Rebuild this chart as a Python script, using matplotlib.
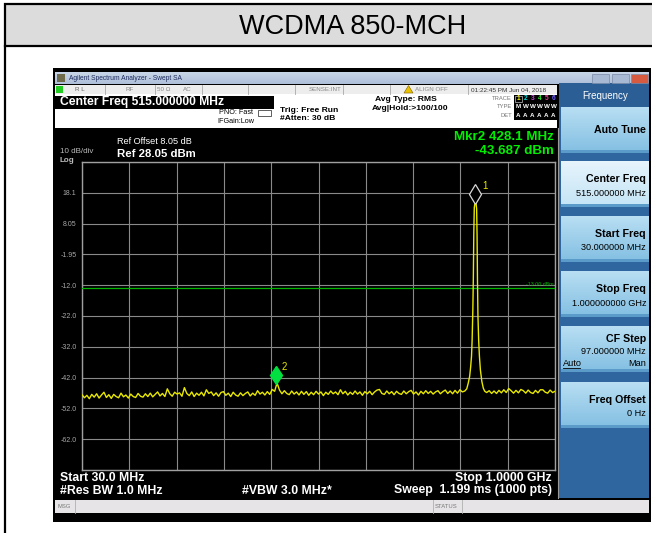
import numpy as np
import matplotlib
matplotlib.use('Agg')
import matplotlib.pyplot as plt
from matplotlib.patches import Rectangle, Polygon
from matplotlib.transforms import offset_copy

plt.rcParams['font.family'] = ['Liberation Sans', 'DejaVu Sans']

# ---- data ----
title = 'WCDMA 850-MCH'
start_mhz, stop_mhz = 30.0, 1000.0
ref_dbm = 28.05
db_div = 10
ytick_labels = ['', '18.1', '8.05', '-1.95', '-12.0', '-22.0', '-32.0',
                '-42.0', '-52.0', '-62.0', '']
limit_dbm = -13.0

sweep_mhz = np.arange(30, 1001, 5)
floor_dbm = [
    -47.5, -48.5, -47.7, -48.8, -47.4, -48.3, -47.2, -48.6, -47.6, -46.7, -48.4, -47.5, -48.7,
    -47.4, -48.1, -48.5, -47.0, -48.2, -47.6, -48.6, -47.3, -48.1, -48.4, -47.1, -48.0, -48.3,
    -47.2, -48.1, -47.0, -48.2, -47.4, -46.6, -47.9, -47.1, -48.1, -45.6, -47.2, -48.0, -46.7,
    -47.3, -46.9, -48.0, -45.2, -47.1, -47.8, -46.6, -48.1, -47.0, -47.7, -46.7, -47.9, -45.9,
    -47.1, -46.6, -47.8, -46.9, -48.0, -46.8, -46.5, -47.7, -47.0, -48.1, -46.7, -47.6, -48.0,
    -46.9, -47.8, -47.1, -46.6, -47.9, -47.0, -47.7, -46.2, -47.3, -46.7, -47.6, -46.5, -47.4,
    -45.8, -46.4, -43.7, -46.0, -47.2, -46.2, -47.1, -47.5, -46.3, -47.3, -46.6, -47.6, -46.4,
    -47.4, -46.5, -47.7, -46.7, -47.5, -46.4, -47.3, -46.6, -47.8, -46.7, -47.4, -46.3, -47.2,
    -46.6, -47.5, -45.9, -47.2, -46.4, -47.6, -46.7, -47.4, -46.3, -47.3, -46.6, -47.7, -46.5,
    -47.2, -46.4, -47.5, -46.6, -46.0, -45.8, -47.1, -47.4, -46.3, -47.2, -46.5, -47.5, -46.4,
    -47.1, -47.4, -46.3, -47.2, -46.5, -46.1, -47.3, -46.6, -47.6, -46.4, -47.2, -46.2, -47.1,
    -46.4, -47.3, -46.6, -46.2, -47.2, -46.5, -46.0, -47.1, -46.3, -47.2, -46.1, -47.0, -45.9,
    -46.6, -46.4, -46.3, -46.5, -46.2, -46.6, -46.4, -46.7, -46.3, -46.5, -46.8, -46.2, -47.1,
    -46.3, -47.1, -46.1, -46.9, -45.9, -46.8, -45.5, -46.2, -47.0, -46.1, -46.9, -45.8, -46.2,
    -47.0, -46.0, -46.8, -47.1, -46.1, -46.9, -45.9, -45.9, -46.7, -47.0, -46.0, -46.8, -46.4,
]
peak_mhz = [815, 819, 822, 825, 827, 828.8, 830, 831.5, 832.5, 833.5, 834.5, 835.8,
            837, 838.2, 839.3, 840.2, 841, 842, 843.5, 845, 847, 850, 853, 856]
peak_dbm = [-46.3, -45.6, -43.8, -41.5, -38.5, -35.0, -30.0, -20.0, -10.0, 5.0, 13.3, 14.6,
            14.8, 14.5, 12.8, 4.0, -10.0, -22.0, -30.0, -35.0, -39.5, -43.2, -45.4, -46.4]
mkr1_mhz, mkr1_dbm = 836.6, 14.8
mkr2_mhz, mkr2_dbm = 428.1, -43.687

softkeys = [('Auto Tune', '', False), ('Center Freq', '515.000000 MHz', True),
            ('Start Freq', '30.000000 MHz', False), ('Stop Freq', '1.000000000 GHz', False),
            ('CF Step', '97.000000 MHz', False), ('Freq Offset', '0 Hz', False)]
key_tops = [107, 161, 216, 271, 326, 382]

fig = plt.figure(figsize=(6.52, 5.33), dpi=100)
bg = fig.add_axes([0, 0, 1, 1])
bg.set_xlim(0, 652)
bg.set_ylim(533, 0)
bg.axis('off')


def rect(x0, y0, x1, y1, fc, ec='none', lw=0, z=1):
    bg.add_patch(Rectangle((x0, y0), x1 - x0, y1 - y0, fc=fc, ec=ec, lw=lw, zorder=z))


def txt(x, y, s, size, color='black', weight='normal', ha='left', **kw):
    bg.text(x, y, s, fontsize=size, color=color, fontweight=weight, ha=ha, va='center', zorder=5, **kw)


def grad(x0, y0, x1, y1, c_top, c_bot, z=2):
    a = np.array(matplotlib.colors.to_rgb(c_top))
    b = np.array(matplotlib.colors.to_rgb(c_bot))
    t = np.linspace(0, 1, 32)[:, None]
    img = (a * (1 - t) + b * t)[:, None, :]
    bg.imshow(img, extent=(x0, x1, y1, y0), aspect='auto', zorder=z, interpolation='bilinear')


# table cell with title
rect(5, 4, 660, 46, '#dcdcdc', 'black', 1.6)
bg.plot([5, 5], [46, 533], color='black', lw=1.6, zorder=3)
txt(353, 27, title, 19.5, ha='center')

# analyzer window
rect(53, 68, 651, 522, 'black')
grad(55, 72, 649, 84, '#c9d6e8', '#aebfd9')
rect(57, 74, 65, 82, '#6e6b4a', z=3)
txt(69, 78.5, 'Agilent Spectrum Analyzer - Swept SA', 4.8, '#1c2b5c')
for x0, c in [(592, '#a7b9d3'), (612, '#a7b9d3'), (631, '#d65a3f')]:
    rect(x0, 74, x0 + 17, 82.5, c, '#7a8aa8', 0.5, z=3)

# status row
rect(55, 85, 557, 94, '#ededed', z=2)
for x in [105, 155, 202, 248, 295, 343, 390, 468]:
    bg.plot([x, x], [85, 94], color='#a8a8a8', lw=0.6, zorder=3)
rect(56, 86, 63, 93, '#22cc22', z=3)
txt(75, 89.5, 'R L', 4.5, '#666666')
txt(125, 89.5, 'RF', 4.5, '#888888')
txt(157, 89.5, '50 \u03a9', 4.5, '#888888')
txt(183, 89.5, 'AC', 4.5, '#888888')
txt(342, 89.5, 'SENSE:INT', 4.5, '#888888', ha='right')
bg.add_patch(Polygon([[404, 93], [408.5, 85.5], [413, 93]], fc='#e8c000', ec='#806000', lw=0.4, zorder=4))
txt(415, 89.5, 'ALIGN OFF', 4.5, '#888888')
txt(471, 89.5, '01:22:45 PM Jun 04, 2018', 4.6, '#333333')

# header
rect(55, 94, 557, 128, 'white', z=2)
rect(55, 96, 274, 108.5, 'black', z=3)
txt(60, 102.3, 'Center Freq 515.000000 MHz', 8.7, 'white', 'bold')
txt(253, 113, 'PNO: Fast', 5.2, ha='right')
txt(254, 121.5, 'IFGain:Low', 5.2, ha='right')
rect(258, 110, 271, 116, 'white', '#444444', 0.6, z=3)
txt(280, 110, 'Trig: Free Run', 6.1, weight='bold')
txt(280, 119, '#Atten: 30 dB', 6.1, weight='bold')
txt(375, 99.5, 'Avg Type: RMS', 6.1, weight='bold')
txt(372, 108.5, 'Avg|Hold:>100/100', 6.1, weight='bold')
rect(514, 95, 557, 120, 'black', z=3)
txt(512, 98.5, 'TRACE', 4.2, '#777777', ha='right')
txt(512, 107, 'TYPE', 4.2, '#777777', ha='right')
txt(512, 115.5, 'DET', 4.2, '#777777', ha='right')
trace_cols = ['#f0f000', '#00e0e0', '#d040e0', '#30e030', '#e04090', '#7060ff']
rect(515, 95.5, 522, 102, 'none', '#c0c0c0', 0.5, z=4)
for i, c in enumerate(trace_cols):
    xc = 518.5 + 7 * i
    txt(xc, 98.7, str(i + 1), 4.8, c, 'bold', ha='center')
    txt(xc, 107, 'M' if i == 0 else 'W', 4.5, 'white', 'bold', ha='center')
    txt(xc, 115.5, 'A', 4.5, 'white', 'bold', ha='center')

# softkey panel
rect(559, 83, 649, 498, '#2f66a0', z=2)
rect(559, 83, 649, 107, '#2c5e96', z=2)
txt(605, 96, 'Frequency', 7, 'white', ha='center')
for (name, val, hi), y0 in zip(softkeys, key_tops):
    y1 = y0 + 46
    if hi:
        grad(561, y0, 649, y1 - 3, '#e6f4fc', '#c6e5f6')
    else:
        grad(561, y0, 649, y1 - 3, '#b8def3', '#86c1e3')
    rect(561, y1 - 3, 649, y1, '#5a9bc9', z=3)
    if name == 'CF Step':
        txt(646, y0 + 13, name, 7.7, weight='bold', ha='right')
        txt(646, y0 + 25, val, 6.6, ha='right')
        txt(563, y0 + 37, 'Auto', 6.6)
        bg.plot([563, 580], [y0 + 41.5, y0 + 41.5], color='black', lw=0.6, zorder=5)
        txt(646, y0 + 37, 'Man', 6.6, ha='right')
    elif val:
        txt(646, y0 + 18, name, 7.7, weight='bold', ha='right')
        txt(646, y0 + 32, val, 6.6, ha='right')
    else:
        txt(646, y0 + 23, name, 7.7, weight='bold', ha='right')
bg.plot([558, 558], [128, 498], color='#9a9a9a', lw=0.8, zorder=3)

# texts on black area
txt(117, 142, 'Ref Offset 8.05 dB', 6.6, 'white')
txt(117, 154, 'Ref 28.05 dBm', 8.2, 'white', 'bold')
txt(60, 151.5, '10 dB/div', 5.8, '#bbbbbb')
txt(60, 160.5, 'Log', 5.8, '#bbbbbb', 'bold')
txt(554, 136.5, 'Mkr2 428.1 MHz', 9.6, '#00ee00', 'bold', ha='right')
txt(554, 150.5, '-43.687 dBm', 9.6, '#00ee00', 'bold', ha='right')
txt(60, 478, 'Start 30.0 MHz', 8.8, 'white', 'bold')
txt(60, 490.5, '#Res BW 1.0 MHz', 8.8, 'white', 'bold')
txt(242, 490.5, '#VBW 3.0 MHz*', 8.8, 'white', 'bold')
txt(552, 478, 'Stop 1.0000 GHz', 8.8, 'white', 'bold', ha='right')
txt(552, 490.5, 'Sweep  1.199 ms (1000 pts)', 8.8, 'white', 'bold', ha='right')

# message bar
rect(55, 500, 649, 513, '#e6e4e6', z=2)
for x in [75, 433, 462]:
    bg.plot([x, x], [500, 513], color='#b0b0b0', lw=0.6, zorder=3)
txt(57, 506.5, 'MSG', 4.2, '#777777')
txt(435, 506.5, 'STATUS', 4.2, '#777777')

# ---- spectrum plot ----
W, H = 652, 533
ax = fig.add_axes([82 / W, 1 - 470 / H, 473 / W, 308 / H])
ax.set_facecolor('black')
ax.set_xlim(start_mhz, stop_mhz)
ax.set_ylim(ref_dbm - 10 * db_div, ref_dbm)
ax.set_xticks(np.linspace(start_mhz, stop_mhz, 11))
yt = [ref_dbm - db_div * k for k in range(11)]
ax.set_yticks(yt)
ax.set_yticklabels(ytick_labels)
ax.set_xticklabels([])
ax.tick_params(length=0, labelsize=5, labelcolor='#a8a8a8', pad=4)
ax.grid(True, color='#8a8a8a', lw=0.8)
for s in ax.spines.values():
    s.set_color('#a0a0a0')
    s.set_linewidth(1.0)

floor = np.array(floor_dbm)
lo = sweep_mhz < peak_mhz[0]
hi = sweep_mhz > peak_mhz[-1]
tr_x = np.concatenate([sweep_mhz[lo], peak_mhz, sweep_mhz[hi]])
tr_y = np.concatenate([floor[lo], peak_dbm, floor[hi]])
ax.plot(tr_x, tr_y, color='#e8e800', lw=1.0, zorder=4)

ax.axhline(limit_dbm, color='#00b400', lw=0.9, zorder=3)
ax.text(stop_mhz - 3, limit_dbm + 0.6, '-13.00 dBm', color='#00b400', fontsize=3.8,
        ha='right', va='bottom', zorder=5)

up = offset_copy(ax.transData, fig=fig, y=6, units='points')
ax.plot(mkr1_mhz, mkr1_dbm, marker='d', ms=10.5, mfc='black', mec='#d8d8d8', mew=0.9,
        transform=up, zorder=6, clip_on=False)
ax.plot(mkr2_mhz, mkr2_dbm, marker='d', ms=9.5, mfc='#00e040', mec='#00e040',
        transform=up, zorder=6)
ax.annotate('1', (mkr1_mhz, mkr1_dbm), xytext=(5, 10), textcoords='offset points',
            color='#e8e800', fontsize=7, zorder=6)
ax.annotate('2', (mkr2_mhz, mkr2_dbm), xytext=(4, 9), textcoords='offset points',
            color='#e8e800', fontsize=7, zorder=6)

fig.savefig('out.png', dpi=100)
